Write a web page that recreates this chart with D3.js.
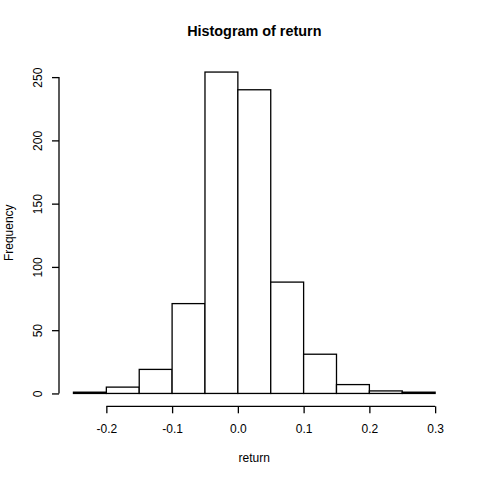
<!DOCTYPE html>
<html><head><meta charset="utf-8">
<script src="https://cdn.jsdelivr.net/npm/d3@7"></script>
<style>body{margin:0;background:#fff}svg{display:block}text{font-family:Arial,"Liberation Sans",sans-serif;fill:#000}</style>
</head><body>
<script>
const binEdges = [-0.25,-0.2,-0.15,-0.1,-0.05,0,0.05,0.1,0.15,0.2,0.25,0.3];
const counts = [1,5,19,71,254,240,88,31,7,2,1];
const xTicks = [-0.2,-0.1,0.0,0.1,0.2,0.3];
const yTicks = [0,50,100,150,200,250];
const title = "Histogram of return";
const xLabel = "return";
const yLabel = "Frequency";

const W=480,H=480;
const svg=d3.select("body").append("svg").attr("width",W).attr("height",H);
const x=d3.scaleLinear().domain([-0.272,0.322]).range([59,449.6]);
const y=d3.scaleLinear().domain([-10.16,264.16]).range([406.3,59.2]);

const bins=counts.map((c,i)=>({x0:binEdges[i],x1:binEdges[i+1],c}));
svg.selectAll("rect.bar").data(bins).enter().append("rect")
  .attr("x",d=>x(d.x0)).attr("width",d=>x(d.x1)-x(d.x0))
  .attr("y",d=>y(d.c)).attr("height",d=>y(0)-y(d.c))
  .attr("fill","#fff").attr("stroke","#000").attr("stroke-width",1.3);

const fmt=d=>d3.format(".1f")(d).replace("\u2212","-");
const xAxis=d3.axisBottom(x).tickValues(xTicks).tickSize(7).tickPadding(11).tickFormat(fmt);
const gx=svg.append("g").attr("transform",`translate(0,${y.range()[0]})`).call(xAxis);
gx.select(".domain").attr("d",`M${x(-0.2)},0H${x(0.3)}`).attr("stroke-width",1.3);
gx.selectAll(".tick line").attr("stroke-width",1.3);
gx.selectAll("text").attr("font-size",12).attr("font-family","Arial, 'Liberation Sans', sans-serif").attr("fill","#000");

const yAxis=d3.axisLeft(y).tickValues(yTicks).tickSize(7).tickPadding(0);
const gy=svg.append("g").attr("transform",`translate(${x.range()[0]},0)`).call(yAxis);
gy.select(".domain").attr("d",`M0,${y(0)}V${y(250)}`).attr("stroke-width",1.3);
gy.selectAll(".tick line").attr("stroke-width",1.3);
gy.selectAll("text").attr("font-size",12).attr("font-family","Arial, 'Liberation Sans', sans-serif").attr("fill","#000")
  .attr("x",null).attr("dy",null)
  .attr("text-anchor","middle").attr("transform","translate(-17,0) rotate(-90)");

svg.append("text").attr("x",(x.range()[0]+x.range()[1])/2).attr("y",36)
  .attr("text-anchor","middle").attr("font-weight","bold").attr("font-size",14.4).text(title);
svg.append("text").attr("x",(x.range()[0]+x.range()[1])/2).attr("y",462)
  .attr("text-anchor","middle").attr("font-size",12).text(xLabel);
svg.append("text").attr("transform",`translate(13,${(y.range()[0]+y.range()[1])/2}) rotate(-90)`)
  .attr("text-anchor","middle").attr("font-size",12).text(yLabel);
</script>
</body></html>
